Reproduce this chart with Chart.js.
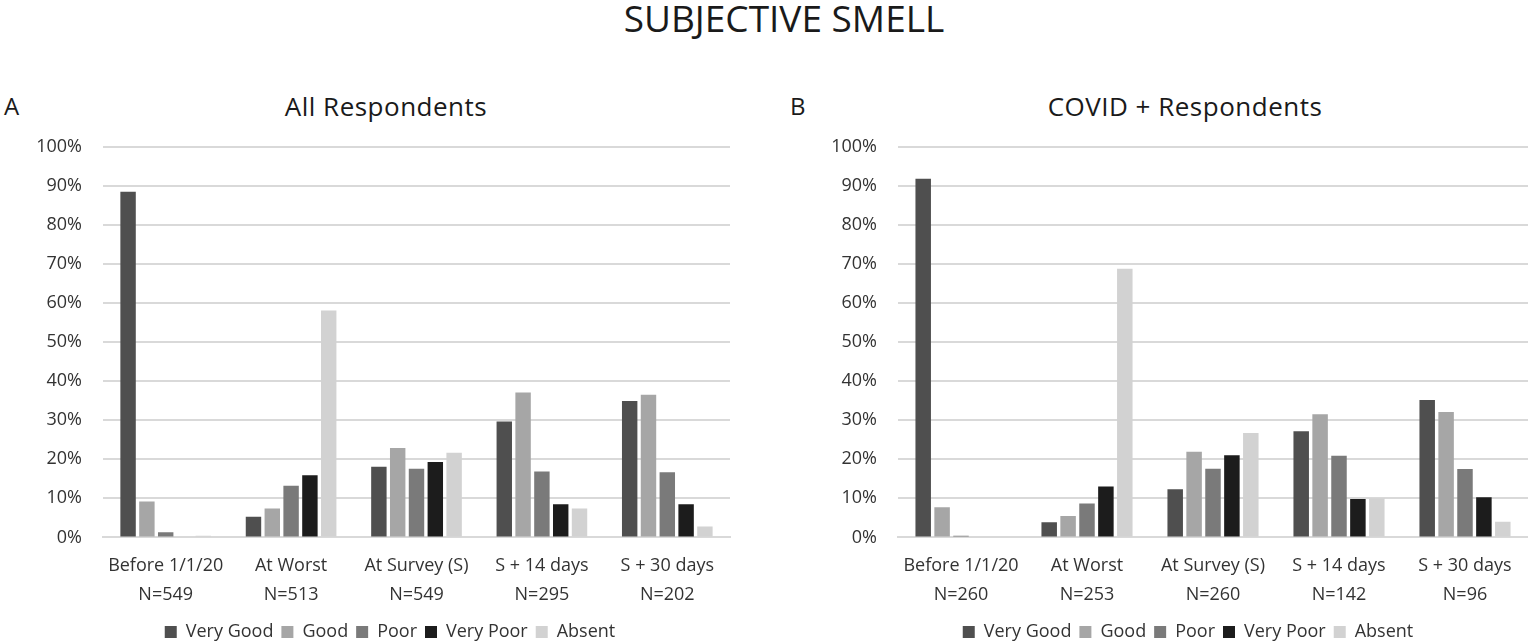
<!DOCTYPE html>
<html>
<head>
<meta charset="utf-8">
<script src="https://cdn.jsdelivr.net/npm/chart.js@4.4.1/dist/chart.umd.min.js"></script>
<style>
  html, body { margin: 0; padding: 0; background: #fff; overflow: hidden; }
  body { width: 1528px; height: 643px; position: relative; font-family: "Open Sans", Lato, sans-serif; color: #1a1a1a; }
  .txt { position: absolute; white-space: nowrap; }
  #titulo { left: 784px; top: -2px; font-size: 37px; line-height: 40px; transform: translateX(-50%); }
  .letra { font-size: 24px; top: 91px; line-height: 30px; }
  .sub { font-size: 26px; letter-spacing: 0.5px; top: 91px; line-height: 30px; transform: translateX(-50%); }
  .lienzo { position: absolute; top: 115px; height: 536px; }
</style>
</head>
<body>
<div id="titulo" class="txt">SUBJECTIVE SMELL</div>
<div class="txt letra" style="left:4px">A</div>
<div class="txt letra" style="left:790px">B</div>
<div class="txt sub" style="left:386px">All Respondents</div>
<div class="txt sub" style="left:1185px">COVID + Respondents</div>
<div class="lienzo" style="left:0; width:780px"><canvas id="graficoA"></canvas></div>
<div class="lienzo" style="left:795px; width:786px"><canvas id="graficoB"></canvas></div>
<script>
const periodos = ["Before 1/1/20", "At Worst", "At Survey (S)", "S + 14 days", "S + 30 days"];
const nTodos = [549, 513, 549, 295, 202];
const nCovid = [260, 253, 260, 142, 96];

const niveles = ["Very Good", "Good", "Poor", "Very Poor", "Absent"];
const colores = ["#4f4f4f", "#a6a6a6", "#7a7a7a", "#1c1c1c", "#d2d2d2"];

// porcentajes por nivel, en el orden de periodos
const todosMuyBueno = [88.5, 5.3, 18.1, 29.7, 34.9];
const todosBueno = [9.2, 7.4, 22.9, 37.1, 36.5];
const todosMalo = [1.3, 13.2, 17.6, 16.9, 16.7];
const todosMuyMalo = [0, 15.9, 19.3, 8.5, 8.5];
const todosAusente = [0.4, 58.1, 21.7, 7.4, 2.8];

const covidMuyBueno = [91.8, 3.9, 12.3, 27.2, 35.2];
const covidBueno = [7.7, 5.5, 21.9, 31.5, 32.1];
const covidMalo = [0.4, 8.7, 17.6, 20.9, 17.5];
const covidMuyMalo = [0, 13.0, 21.0, 9.8, 10.3];
const covidAusente = [0, 68.8, 26.7, 10.0, 4.0];

const yTicks = [0, 10, 20, 30, 40, 50, 60, 70, 80, 90, 100];

const fuente = { family: "'Open Sans', Lato, sans-serif", size: 18 };
const colorTexto = "#333333";

function crearGrafico(id, series, ns, margenDerecho) {
  const ctx = document.getElementById(id).getContext("2d");
  return new Chart(ctx, {
    type: "bar",
    data: {
      labels: periodos.map((p, i) => [p, "N=" + ns[i]]),
      datasets: niveles.map((nivel, i) => ({
        label: nivel,
        data: series[i],
        backgroundColor: colores[i],
        borderWidth: 0,
        categoryPercentage: 0.75,
        barPercentage: 0.82
      }))
    },
    options: {
      animation: false,
      responsive: true,
      maintainAspectRatio: false,
      layout: { padding: { top: 1, left: 0, right: 0, bottom: 0 } },
      plugins: {
        tooltip: { enabled: false },
        legend: {
          position: "bottom",
          labels: {
            font: fuente,
            color: colorTexto,
            boxWidth: 12,
            boxHeight: 12,
            padding: 8
          }
        }
      },
      scales: {
        x: {
          grid: { display: false },
          border: { display: true, color: "#d9d9d9", width: 2 },
          ticks: { font: { ...fuente, lineHeight: 1.6 }, color: colorTexto, padding: 6, maxRotation: 0, autoSkip: false }
        },
        y: {
          min: 0,
          max: 100,
          afterBuildTicks: (eje) => { eje.ticks = yTicks.map(v => ({ value: v })); },
          afterFit: (eje) => { eje.width = 103; },
          grid: { color: "#d9d9d9", lineWidth: 2, drawTicks: false },
          border: { display: false },
          ticks: { font: fuente, color: colorTexto, padding: 21, callback: v => v + "%" }
        },
        margen: {
          position: "right",
          display: true,
          afterFit: (eje) => { eje.width = margenDerecho; },
          grid: { display: false, drawOnChartArea: false },
          border: { display: false },
          ticks: { display: false }
        }
      }
    }
  });
}

crearGrafico("graficoA", [todosMuyBueno, todosBueno, todosMalo, todosMuyMalo, todosAusente], nTodos, 50);
crearGrafico("graficoB", [covidMuyBueno, covidBueno, covidMalo, covidMuyMalo, covidAusente], nCovid, 53);
</script>
</body>
</html>
